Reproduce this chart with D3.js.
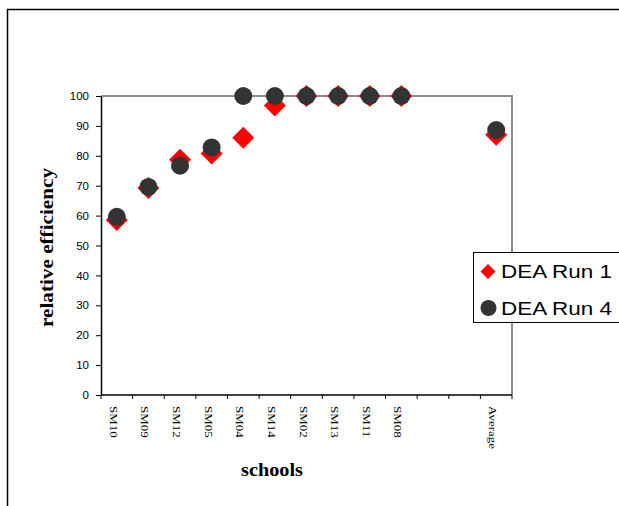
<!DOCTYPE html>
<html><head><meta charset="utf-8">
<script src="https://cdn.jsdelivr.net/npm/d3@7"></script>
<style>body{margin:0;background:#fff}svg{display:block}</style>
</head><body>
<svg id="c" width="619" height="506"></svg>
<script>
const categories = ["SM10","SM09","SM12","SM05","SM04","SM14","SM02","SM13","SM11","SM08","","_","Average"];
const run1 = [58.5, 69.2, 78.7, 80.8, 86, 96.8, 100, 100, 100, 100, null, null, 87];
const run4 = [59.6, 69.6, 76.7, 82.8, 100, 100, 100, 100, 100, 100, null, null, 88.6];
const yTicks = [0,10,20,30,40,50,60,70,80,90,100];
const seriesNames = ["DEA Run 1","DEA Run 4"];

const svg = d3.select("#c");
const L = 101, R = 512, T = 96, B = 395;
const x = d3.scaleBand().domain(categories).range([L, R]).padding(0);
const y = d3.scaleLinear().domain([0, 100]).range([B, T]);
const serif = "'Liberation Serif','Times New Roman',serif";
const sans = "Arial, 'Liberation Sans', sans-serif";

// outer border
svg.append("path").attr("d", "M7.5,506 L7.5,9.5 L619,9.5").attr("fill","none").attr("stroke","#000").attr("stroke-width",1.5);

// plot area frame (top/right gray)
svg.append("path").attr("d", `M${L},${T} L${R},${T} L${R},${B}`).attr("fill","none").attr("stroke","#8c8c8c").attr("stroke-width",2);

// y axis
const ya = svg.append("g").attr("transform", `translate(${L},0)`)
  .call(d3.axisLeft(y).tickValues(yTicks).tickSize(5).tickSizeOuter(0));
ya.select(".domain").attr("stroke","#000").attr("stroke-width",1.5);
ya.selectAll(".tick line").attr("stroke","#000");
ya.selectAll("text").attr("font-family",sans).attr("font-size",11.5).attr("fill","#000").attr("x",-12);

// x axis
svg.append("line").attr("x1",L).attr("x2",R).attr("y1",B).attr("y2",B).attr("stroke","#000").attr("stroke-width",1.5);
const bounds = categories.map(c => x(c)).concat([R]);
svg.selectAll(".xt").data(bounds).enter().append("line")
  .attr("x1", d=>d).attr("x2", d=>d).attr("y1", B).attr("y2", B+4).attr("stroke","#000");
svg.selectAll(".xl").data(categories.filter(c => c && c !== "_")).enter().append("text")
  .attr("transform", d => `translate(${x(d)+x.bandwidth()/2 - 7},${B+11}) rotate(90) scale(1.18,1)`)
  .attr("font-family",serif).attr("font-size",11)
  .text(d=>d);

// axis titles
svg.append("text").attr("transform", `translate(53,247.5) rotate(-90)`).attr("text-anchor","middle")
  .attr("font-family",serif).attr("font-weight","bold").attr("font-size",18)
  .attr("textLength",159).attr("lengthAdjust","spacingAndGlyphs")
  .text("relative efficiency");
svg.append("text").attr("x",272).attr("y",476).attr("text-anchor","middle")
  .attr("font-family",serif).attr("font-weight","bold").attr("font-size",18)
  .attr("textLength",62).attr("lengthAdjust","spacingAndGlyphs")
  .text("schools");

const cx = i => x(categories[i]) + x.bandwidth()/2;
const diamond = (s) => `M0,${-s} L${s},0 L0,${s} L${-s},0 Z`;

// series 1 diamonds
svg.selectAll(".d1").data(run1.map((v,i)=>({v,i})).filter(d=>d.v!=null)).enter().append("path")
  .attr("d", diamond(11)).attr("fill","#ff0000")
  .attr("transform", d=>`translate(${cx(d.i)},${y(d.v)})`);
// series 4 circles
svg.selectAll(".d4").data(run4.map((v,i)=>({v,i})).filter(d=>d.v!=null)).enter().append("circle")
  .attr("r", 9).attr("fill","#333333")
  .attr("cx", d=>cx(d.i)).attr("cy", d=>y(d.v));

// legend
const lg = svg.append("g");
lg.append("rect").attr("x",473.5).attr("y",252.5).attr("width",150).attr("height",70).attr("fill","#fff").attr("stroke","#000").attr("stroke-width",1);
lg.append("path").attr("d", diamond(7.5)).attr("fill","#ff0000").attr("transform","translate(488,271.5)");
lg.append("circle").attr("r",8).attr("fill","#333333").attr("cx",488.5).attr("cy",308);
lg.selectAll(".lt").data(seriesNames).enter().append("text")
  .attr("x",501).attr("y",(d,i)=>278 + i*37)
  .attr("font-family",sans).attr("font-size",18)
  .attr("textLength",111).attr("lengthAdjust","spacingAndGlyphs")
  .text(d=>d);
</script>
</body></html>
